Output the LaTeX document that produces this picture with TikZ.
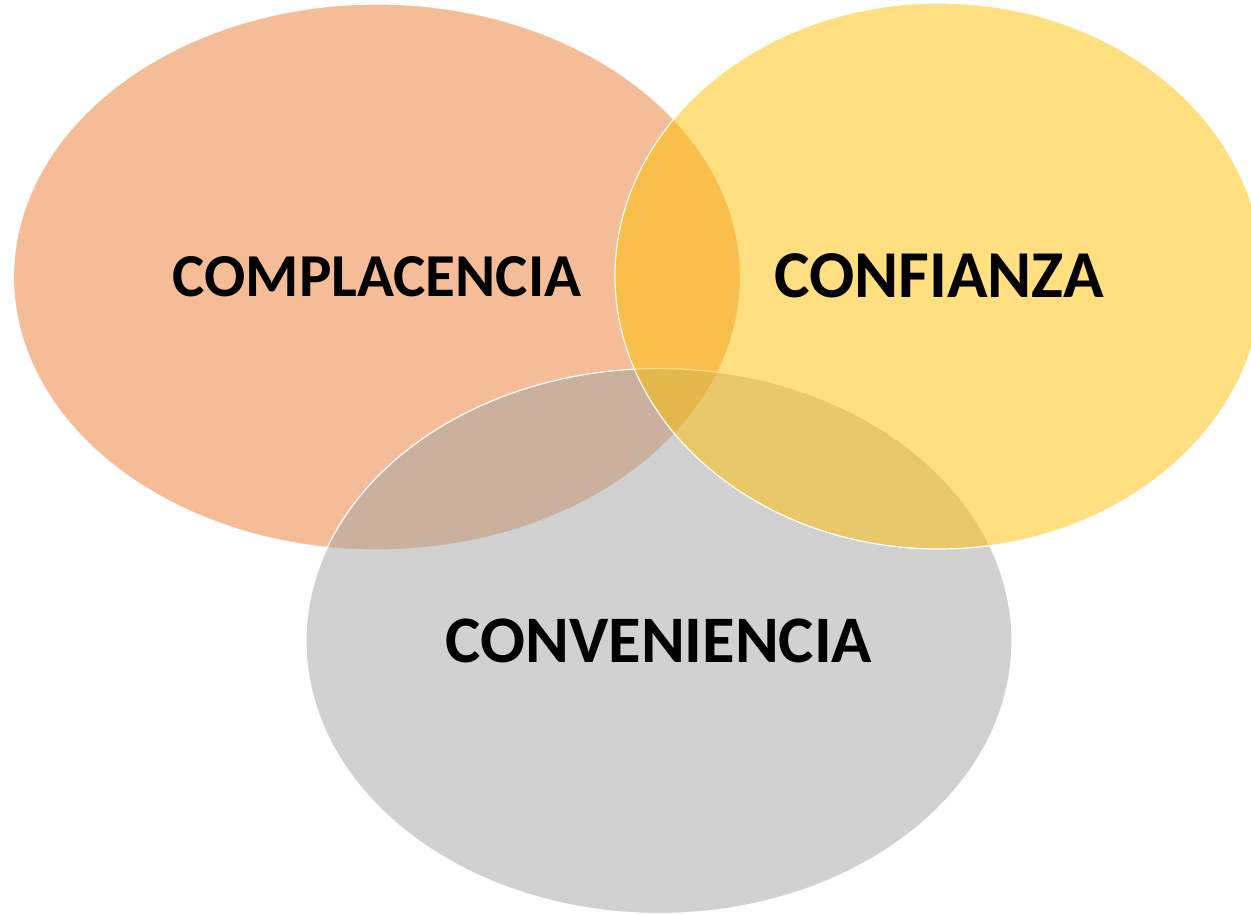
\documentclass[tikz,border=0pt]{standalone}
\usepackage{fontspec}
\setmainfont{Carlito}
\usetikzlibrary{shapes.geometric}
\definecolor{corange}{HTML}{ED7D31}
\definecolor{cyellow}{HTML}{FFC000}
\definecolor{cgrey}{HTML}{A5A5A5}
\tikzset{
  venn/.style={ellipse, draw=white, line width=1.2pt, fill opacity=0.5, draw opacity=1, text opacity=1,
    inner sep=0pt, outer sep=0pt, text=black}
}
\begin{document}
\begin{tikzpicture}[x=1pt,y=-1pt]
\useasboundingbox (0,0) rectangle (1251,915);
\fill[white] (0,0) rectangle (1251,915);
\node[venn, fill=corange, minimum width=727pt, minimum height=546pt,
  font=\fontsize{61}{72}\selectfont\bfseries] (a) at (377,277) {COMPLACENCIA};
\node[venn, fill=cgrey, minimum width=706pt, minimum height=545pt,
  font=\fontsize{66.5}{80}\selectfont\bfseries] (c) at (659,641) {CONVENIENCIA};
\node[venn, fill=cyellow, minimum width=648pt, minimum height=546pt,
  font=\fontsize{67}{80}\selectfont\bfseries] (b) at (939,276) {CONFIANZA};
\end{tikzpicture}
\end{document}
